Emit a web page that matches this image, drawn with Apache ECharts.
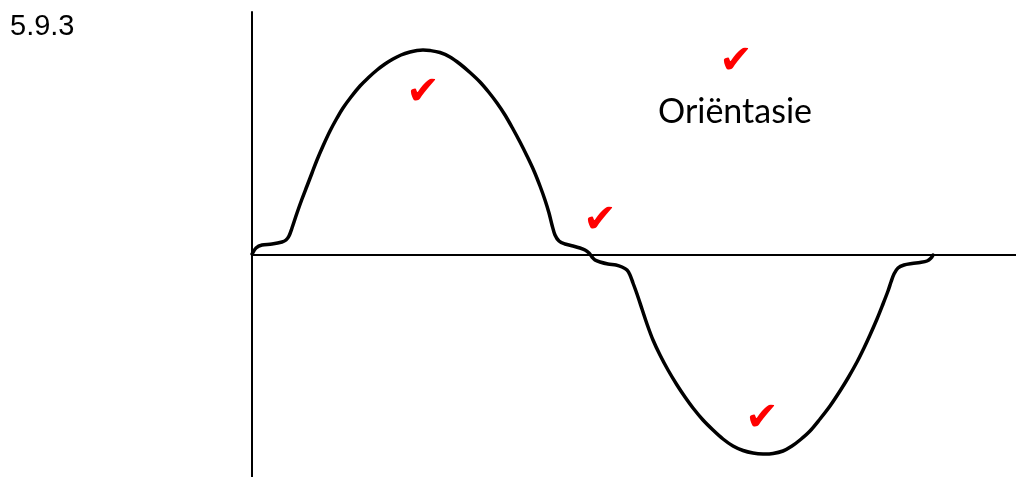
<!DOCTYPE html>
<html>
<head>
<meta charset="utf-8">
<script src="https://cdn.jsdelivr.net/npm/echarts@6/dist/echarts.min.js"></script>
<style>
  html, body { margin: 0; padding: 0; background: #fff; }
  #chart { width: 1016px; height: 477px; }
</style>
</head>
<body>
<div id="chart"></div>
<script>
// waveform with crossover distortion
// x: time (arbitrary units), y: output (arbitrary units)
var timeVals = [0, 4, 10, 20, 30, 34, 37, 40, 45, 50, 55, 60, 65, 71, 78, 85, 91, 99, 108, 116,
  125, 133, 141, 149, 158, 165, 171, 178, 188, 198, 208, 218, 228, 237, 245, 253, 261, 268, 275, 282,
  288, 293, 297, 300, 303, 307, 313, 321, 328, 333, 337, 340, 343, 348, 356, 364, 370, 375, 378, 381,
  385, 390, 395, 401, 408, 416, 425, 433, 441, 451, 461, 471, 481, 491, 501, 511, 521, 531, 540, 548,
  558, 568, 578, 588, 596, 605, 612, 618, 625, 631, 636, 639, 642, 646, 652, 660, 668, 675, 679, 681]
var outputVals = [1, 7, 10, 11, 13, 15, 19, 27, 42, 56, 69, 82, 95, 109, 124, 137, 147, 158, 169, 177,
  185, 191, 196, 200, 203, 204.5, 205, 204.5, 202.5, 198, 191, 182.5, 173, 162.5, 152, 140, 126, 113, 99, 84,
  69, 55, 42, 30, 20, 14, 11, 9, 7, 5, 2, -2, -5, -7, -9, -10, -12, -15, -20, -28,
  -39, -54, -69, -85, -100, -115, -130, -142, -153, -165, -175, -184, -191, -195.5, -198, -199, -198.5, -196, -191, -185,
  -176, -164, -151, -136, -123, -107, -93, -80, -64, -49, -36, -27, -19, -13, -10, -8.5, -7.5, -6, -3, 0]

var questionLabel = '5.9.3'
var noteLabel = 'Oriëntasie'
var tickMark = '\u2714'

var xMax = 764
var yMax = 243
var yMin = -222

var chart = echarts.init(document.getElementById('chart'))

var waveData = timeVals.map(function (t, i) {
  return [t, outputVals[i]]
})

// whole wave as one catmull-rom path, points go through the axes via api.coord
function renderWave(params, api) {
  if (params.dataIndex !== 0) return
  var pts = waveData.map(function (d) { return api.coord(d) })
  var n = pts.length
  var d = 'M' + pts[0][0] + ',' + pts[0][1]
  for (var i = 0; i < n - 1; i++) {
    var p0 = pts[Math.max(i - 1, 0)]
    var p1 = pts[i]
    var p2 = pts[i + 1]
    var p3 = pts[Math.min(i + 2, n - 1)]
    var c1x = p1[0] + (p2[0] - p0[0]) / 6
    var c1y = p1[1] + (p2[1] - p0[1]) / 6
    var c2x = p2[0] - (p3[0] - p1[0]) / 6
    var c2y = p2[1] - (p3[1] - p1[1]) / 6
    d += ' C' + c1x + ',' + c1y + ' ' + c2x + ',' + c2y + ' ' + p2[0] + ',' + p2[1]
  }
  return {
    type: 'path',
    shape: { pathData: d },
    style: { fill: 'none', stroke: '#000', lineWidth: 3.5, lineJoin: 'round', lineCap: 'round' }
  }
}

function checkMark(x, y) {
  return {
    type: 'text',
    x: x,
    y: y,
    style: {
      text: tickMark,
      fill: '#ff0000',
      font: '40px "DejaVu Sans"',
      align: 'center',
      verticalAlign: 'middle'
    }
  }
}

chart.setOption({
  animation: false,
  backgroundColor: '#ffffff',
  grid: {
    left: 252,
    right: 0,
    top: 12,
    bottom: 0
  },
  xAxis: {
    type: 'value',
    min: 0,
    max: xMax,
    axisLine: { show: true, onZero: true, lineStyle: { color: '#000', width: 2 } },
    axisTick: { show: false },
    axisLabel: { show: false },
    splitLine: { show: false }
  },
  yAxis: {
    type: 'value',
    min: yMin,
    max: yMax,
    axisLine: { show: true, lineStyle: { color: '#000', width: 2 } },
    axisTick: { show: false },
    axisLabel: { show: false },
    splitLine: { show: false }
  },
  series: [{
    type: 'custom',
    renderItem: renderWave,
    data: waveData,
    clip: false,
    z: 3
  }],
  graphic: [
    {
      type: 'text',
      left: 10,
      top: 12,
      style: {
        text: questionLabel,
        fill: '#000',
        font: '29px "Liberation Sans", Arial, sans-serif'
      }
    },
    {
      type: 'text',
      x: 658,
      y: 112,
      style: {
        text: noteLabel,
        fill: '#000',
        font: '34px Lato, "Open Sans", sans-serif',
        verticalAlign: 'middle'
      }
    },
    checkMark(423, 94),
    checkMark(600, 222),
    checkMark(736, 63),
    checkMark(762, 420)
  ]
})
</script>
</body>
</html>
